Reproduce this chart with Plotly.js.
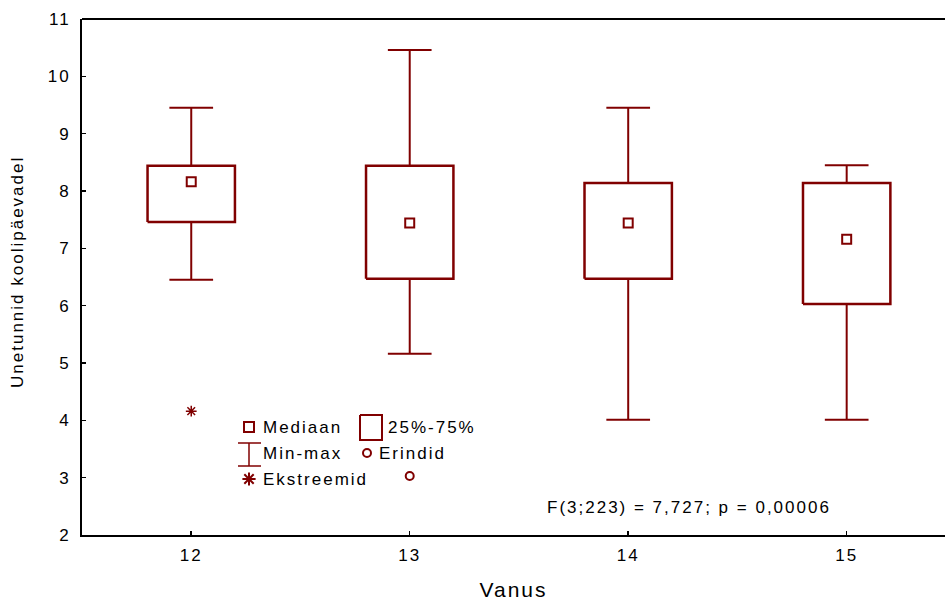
<!DOCTYPE html>
<html>
<head>
<meta charset="utf-8">
<script src="https://cdn.plot.ly/plotly-3.0.1.min.js"></script>
<style>
html,body{margin:0;padding:0;background:#fff;}
#chart{width:945px;height:601px;}
text{letter-spacing:2px;}
</style>
</head>
<body>
<div id="chart"></div>
<script>
// Data
const ages = [12, 13, 14, 15];
const medians = [8.16, 7.44, 7.44, 7.16];
const q1 = [7.46, 6.47, 6.47, 6.03];
const q3 = [8.44, 8.44, 8.14, 8.14];
const mins = [6.45, 5.16, 4.01, 4.01];
const maxs = [9.45, 10.46, 9.45, 8.45];
const outlierX = [13];
const outlierY = [3.03];
const extremeX = [12];
const extremeY = [4.16];
const yTicks = [2, 3, 4, 5, 6, 7, 8, 9, 10, 11];
const statText = "F(3;223) = 7,727; p = 0,00006";
const yTitle = "Unetunnid koolipäevadel";
const xTitle = "Vanus";

const red = '#800000';
const boxHalf = 0.2, capHalf = 0.1;
const font = 'Liberation Sans, Arial, sans-serif';

// Boxes
const bx = [], by = [];
ages.forEach((c, i) => {
  bx.push(c - boxHalf, c + boxHalf, c + boxHalf, c - boxHalf, c - boxHalf, null);
  by.push(q1[i], q1[i], q3[i], q3[i], q1[i], null);
});
// Whiskers
const wx = [], wy = [];
ages.forEach((c, i) => {
  wx.push(c, c, null, c - capHalf, c + capHalf, null, c, c, null, c - capHalf, c + capHalf, null);
  wy.push(q3[i], maxs[i], null, maxs[i], maxs[i], null, q1[i], mins[i], null, mins[i], mins[i], null);
});

const traces = [
  {x: wx, y: wy, mode: 'lines', line: {color: red, width: 2}, hoverinfo: 'skip', showlegend: false},
  {x: bx, y: by, mode: 'lines', line: {color: red, width: 2.5}, hoverinfo: 'skip', showlegend: false},
  {x: ages, y: medians, mode: 'markers', marker: {symbol: 'square-open', size: 9, color: red, line: {width: 2, color: red}}, showlegend: false},
  {x: outlierX, y: outlierY, mode: 'markers', marker: {symbol: 'circle-open', size: 8, color: red, line: {width: 2, color: red}}, showlegend: false},
  {x: extremeX, y: extremeY, mode: 'markers', marker: {symbol: 'asterisk-open', size: 9, color: red, line: {width: 1.5, color: red}}, showlegend: false},
  // Legend glyphs in pixel space (overlay axes)
  {x: [249], y: [427], xaxis: 'x2', yaxis: 'y2', mode: 'markers', marker: {symbol: 'square-open', size: 10, color: red, line: {width: 2, color: red}}, showlegend: false, hoverinfo: 'skip'},
  {x: [360, 382, 382, 360, 360], y: [415, 415, 440, 440, 415], xaxis: 'x2', yaxis: 'y2', mode: 'lines', line: {color: red, width: 2}, showlegend: false, hoverinfo: 'skip'},
  {x: [238, 261, null, 249, 249, null, 238, 261], y: [443, 443, null, 443, 466, null, 466, 466], xaxis: 'x2', yaxis: 'y2', mode: 'lines', line: {color: red, width: 1.5}, showlegend: false, hoverinfo: 'skip'},
  {x: [367], y: [453], xaxis: 'x2', yaxis: 'y2', mode: 'markers', marker: {symbol: 'circle-open', size: 8, color: red, line: {width: 2, color: red}}, showlegend: false, hoverinfo: 'skip'},
  {x: [249], y: [479], xaxis: 'x2', yaxis: 'y2', mode: 'markers', marker: {symbol: 'asterisk-open', size: 11, color: red, line: {width: 2, color: red}}, showlegend: false, hoverinfo: 'skip'}
];

const legendTexts = [
  {t: 'Mediaan', x: 261, y: 427},
  {t: '25%-75%', x: 386, y: 427},
  {t: 'Min-max', x: 261, y: 453},
  {t: 'Erindid', x: 377, y: 453},
  {t: 'Ekstreemid', x: 261, y: 479}
];

const annotations = legendTexts.map(l => ({
  x: l.x, y: l.y, xref: 'x2', yref: 'y2', text: l.t, showarrow: false,
  xanchor: 'left', yanchor: 'middle', font: {family: font, size: 17, color: '#000'}
}));
annotations.push({
  x: 689, y: 507, xref: 'x2', yref: 'y2', text: statText, showarrow: false,
  xanchor: 'center', yanchor: 'middle', font: {family: font, size: 17, color: '#000'}
});
annotations.push({
  x: -0.0742, y: 0.5097, xref: 'paper', yref: 'paper', text: yTitle, showarrow: false, textangle: -90,
  xanchor: 'center', yanchor: 'middle', font: {family: font, size: 17, color: '#000'}
});

const layout = {
  width: 945, height: 601,
  margin: {l: 82, r: 0, t: 19, b: 66},
  paper_bgcolor: '#fff', plot_bgcolor: '#fff',
  font: {family: font, size: 17, color: '#000'},
  xaxis: {
    range: [11.5, 15.45], tickvals: ages, ticktext: ages.map(String),
    showgrid: false, zeroline: false, showline: true, linecolor: '#000', linewidth: 2,
    ticks: 'inside', ticklen: 4, tickwidth: 1.5, tickcolor: '#000',
    tickfont: {family: font, size: 17}, ticklabelstandoff: 4,
    title: {text: xTitle, font: {family: font, size: 21}, standoff: 19}
  },
  yaxis: {
    range: [2, 11], tickvals: yTicks,
    showgrid: false, zeroline: false, showline: true, linecolor: '#000', linewidth: 2,
    ticks: 'inside', ticklen: 4, tickwidth: 1.5, tickcolor: '#000',
    tickfont: {family: font, size: 17}, ticklabelstandoff: 6
  },
  xaxis2: {overlaying: 'x', range: [82, 945], visible: false, fixedrange: true},
  yaxis2: {overlaying: 'y', range: [535, 19], visible: false, fixedrange: true},
  shapes: [
    {type: 'line', xref: 'paper', yref: 'paper', x0: 0, x1: 1, y0: 1, y1: 1, line: {color: '#000', width: 2}}
  ],
  annotations: annotations,
  showlegend: false
};

Plotly.newPlot('chart', traces, layout, {displayModeBar: false, staticPlot: true});
</script>
</body>
</html>
